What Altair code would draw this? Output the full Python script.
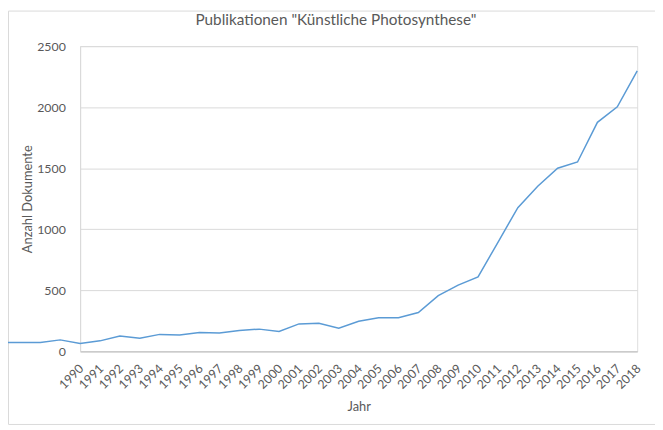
import altair as alt
import pandas as pd

years = list(range(1986, 2019))
docs = [72, 72, 72, 94, 64, 86, 126, 107, 139, 134, 155, 150, 171, 182, 163,
        225, 230, 190, 246, 275, 275, 318, 457, 543, 610, 893, 1177, 1352,
        1500, 1551, 1876, 2003, 2298]
tick_years = list(range(1990, 2019))
y_ticks = [0, 500, 1000, 1500, 2000, 2500]

df = pd.DataFrame({"Jahr": years, "Anzahl": docs})

FONT = "Lato"
TXT = "#595959"

line = alt.Chart(df).mark_line(color="#5b9bd5", strokeWidth=1.5, clip=False).encode(
    x=alt.X("Jahr:Q",
            scale=alt.Scale(domain=[1990, 2018], nice=False, zero=False),
            axis=alt.Axis(values=tick_years, format="d", labelAngle=315,
                          labelAlign="right", labelBaseline="middle",
                          labelPadding=15, labelOffset=1, ticks=False, tickSize=0,
                          grid=False, domainColor="#bfbfbf", labelColor=TXT,
                          labelFont=FONT, labelFontSize=12.5, title="Jahr",
                          titleFont=FONT, titleFontSize=13, titleFontWeight="normal",
                          titleColor=TXT, titlePadding=10, labelOverlap=False)),
    y=alt.Y("Anzahl:Q",
            scale=alt.Scale(domain=[0, 2500], nice=False),
            axis=alt.Axis(values=y_ticks, format="d", ticks=False, tickSize=0,
                          labelPadding=15,
                          grid=True, gridColor="#d9d9d9", domainColor="#d9d9d9",
                          labelColor=TXT, labelFont=FONT, labelFontSize=12.5,
                          title="Anzahl Dokumente", titleFont=FONT, titleFontSize=13,
                          titleFontWeight="normal", titleColor=TXT, titlePadding=2)),
)

frame = alt.Chart(pd.DataFrame({"a": [0]})).mark_rect(
    fill="transparent", stroke="#d9d9d9", strokeWidth=1, clip=False
).encode(x=alt.value(-72.5), x2=alt.value(600), y=alt.value(-35.5), y2=alt.value(383))

chart = alt.layer(frame, line).properties(
    width=564, height=309,
    title=alt.TitleParams('Publikationen "Künstliche Photosynthese"', font=FONT,
                          fontSize=15.5, fontWeight="normal", color=TXT,
                          anchor="middle", dx=-23, dy=28, offset=10),
    autosize=alt.AutoSizeParams(type="none"),
    padding={"left": 73, "top": 36, "right": 18, "bottom": 76},
).configure_view(stroke=None).configure(background="white")

chart.save("out.html", embed_options={"renderer": "svg", "actions": False})
